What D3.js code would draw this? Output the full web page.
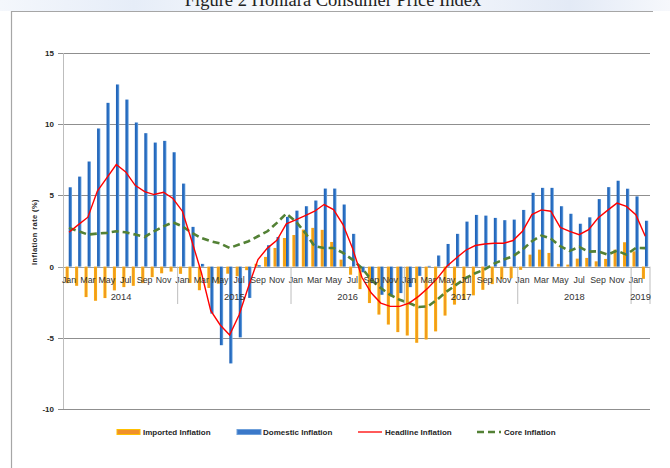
<!DOCTYPE html>
<html>
<head>
<meta charset="utf-8">
<script src="https://cdn.jsdelivr.net/npm/d3@7"></script>
<style>
  body { margin: 0; background: #fff; }
  svg { display: block; }
</style>
</head>
<body>
<script>
// monthly data Jan 2014 - Feb 2019
var monthNames = ["Jan","Feb","Mar","Apr","May","Jun","Jul","Aug","Sep","Oct","Nov","Dec"];
var years = ["2014","2015","2016","2017","2018","2019"];

var imported = [
  -1.16, -1.35, -2.14, -2.4, -2.21, -1.67, -1.44, -1.35, -1.16, -0.74, -0.47, -0.35,
  -0.51, -1.15, -1.66, -1.5, -1.2, -0.5, -0.68, -0.25, 0.2, 0.68, 1.31, 2.01,
  2.22, 2.6, 2.72, 2.58, 1.73, 0.49, -0.57, -1.58, -2.56, -3.37, -4.07, -4.6,
  -4.84, -5.35, -5.12, -4.55, -3.44, -2.67, -2.33, -2.02, -1.63, -1.23, -0.88, -0.81,
  -0.23, 0.84, 1.19, 0.96, 0.19, 0.14, 0.56, 0.61, 0.37, 0.54, 1.19, 1.71,
  1.07, -0.86
];
var domestic = [
  5.57, 6.32, 7.38, 9.7, 11.5, 12.79, 11.73, 10.12, 9.37, 8.71, 8.83, 8.03,
  5.83, 2.79, 0.19, -3.3, -5.52, -6.8, -4.97, -2.2, 0.1, 1.5, 2.08, 3.49,
  3.93, 4.24, 4.64, 5.48, 5.48, 4.36, 2.3, -0.4, -1.16, -1.98, -2.09, -1.86,
  -1.44, -0.65, 0.05, 0.78, 1.59, 2.3, 3.16, 3.63, 3.58, 3.42, 3.26, 3.3,
  3.98, 5.18, 5.53, 5.53, 4.24, 3.71, 3.01, 3.46, 4.74, 5.58, 6.03, 5.47,
  4.93, 3.22
];
var headline = [
  2.41, 2.95, 3.47, 5.3, 6.23, 7.17, 6.65, 5.71, 5.27, 5.06, 5.22, 4.78,
  3.89, 1.8, -0.4, -3.1, -4.1, -4.8, -3.4, -1.4, 0.5, 1.3, 1.85, 3.0,
  3.28, 3.58, 3.89, 4.36, 4.0, 2.95, 1.31, -0.75, -1.86, -2.56, -2.79, -2.79,
  -2.56, -2.09, -1.51, -0.81, 0.02, 0.61, 1.15, 1.48, 1.59, 1.64, 1.64, 1.83,
  2.48, 3.65, 3.98, 3.89, 2.75, 2.48, 2.24, 2.59, 3.41, 3.95, 4.46, 4.23,
  3.64, 2.13
];
var core = [
  2.72, 2.48, 2.25, 2.32, 2.37, 2.48, 2.41, 2.25, 2.08, 2.48, 2.83, 3.11,
  2.83, 2.37, 2.01, 1.78, 1.62, 1.31, 1.55, 1.78, 2.13, 2.48, 3.07, 3.72,
  3.18, 2.37, 1.43, 1.31, 1.31, 0.96, 0.49, -0.1, -0.93, -1.51, -1.98, -2.33,
  -2.56, -2.84, -2.79, -2.3, -1.74, -1.27, -0.8, -0.47, -0.2, 0.21, 0.49, 0.73,
  1.19, 1.78, 2.18, 1.97, 1.43, 1.1, 1.38, 1.05, 1.07, 0.84, 1.12, 0.84,
  1.31, 1.3
];
var yTicks = [15, 10, 5, 0, -5, -10];
var seriesNames = ["Imported Inflation", "Domestic Inflation", "Headline Inflation", "Core Inflation"];

var width = 670;
var height = 468;

var idx = d3.range(imported.length);
var monthLabel = idx.map(function (i) { return monthNames[i % 12]; });

var x = d3.scaleBand().domain(idx).range([64.3, 650]).padding(0);
var y = d3.scaleLinear().domain([-10, 15]).range([409, 53]);
var bw = x.bandwidth();
function cx(i) { return x(i) + bw / 2; }

var svg = d3.select("body")
    .append("svg")
    .attr("width", width)
    .attr("height", height);

var defs = svg.append("defs");
var og = defs.append("linearGradient").attr("id", "gOrange");
og.append("stop").attr("offset", "0%").attr("stop-color", "#ffc000");
og.append("stop").attr("offset", "30%").attr("stop-color", "#f29a1e");
og.append("stop").attr("offset", "70%").attr("stop-color", "#f29a1e");
og.append("stop").attr("offset", "100%").attr("stop-color", "#ffc000");
var bg = defs.append("linearGradient").attr("id", "gBlue");
bg.append("stop").attr("offset", "0%").attr("stop-color", "#1d5fb3");
bg.append("stop").attr("offset", "60%").attr("stop-color", "#2c72c6");
bg.append("stop").attr("offset", "100%").attr("stop-color", "#7fb1e3");
var tg = defs.append("linearGradient").attr("id", "gTop");
tg.append("stop").attr("offset", "0%").attr("stop-color", "#f4f7fc");
tg.append("stop").attr("offset", "20%").attr("stop-color", "#e6edf8");
tg.append("stop").attr("offset", "50%").attr("stop-color", "#ffffff");
tg.append("stop").attr("offset", "85%").attr("stop-color", "#e3eaf6");
tg.append("stop").attr("offset", "100%").attr("stop-color", "#f6f8fc");

// page band + title (cut off at top, as in the source page)
svg.append("rect").attr("x", 0).attr("y", 0).attr("width", width).attr("height", 11)
    .attr("fill", "url(#gTop)");
svg.append("text")
    .attr("x", 333).attr("y", 5.5)
    .attr("text-anchor", "middle")
    .attr("font-family", "Liberation Serif, serif")
    .attr("font-size", "18.5px")
    .attr("fill", "#222")
    .text("Figure 2 Honiara Consumer Price Index");

// frame
svg.append("line").attr("x1", 11).attr("x2", 653).attr("y1", 11.5).attr("y2", 11.5)
    .attr("stroke", "#a6a6a6").attr("stroke-width", 1.2);
svg.append("line").attr("x1", 11.5).attr("x2", 11.5).attr("y1", 11).attr("y2", height)
    .attr("stroke", "#a6a6a6").attr("stroke-width", 1.2);

// gridlines
svg.selectAll("line.grid")
    .data(yTicks)
    .enter()
    .append("line")
    .attr("class", "grid")
    .attr("x1", 58).attr("x2", 650)
    .attr("y1", function (d) { return Math.round(y(d)) + 0.5; })
    .attr("y2", function (d) { return Math.round(y(d)) + 0.5; })
    .attr("stroke", function (d) { return d === 0 ? "#a0a0a0" : "#8f8f8f"; })
    .attr("stroke-width", 1.2);

// y axis line
svg.append("line").attr("x1", 63.5).attr("x2", 63.5).attr("y1", y(15)).attr("y2", y(-10))
    .attr("stroke", "#bdbdbd").attr("stroke-width", 1);

svg.selectAll("text.ytick")
    .data(yTicks)
    .enter()
    .append("text")
    .attr("class", "ytick")
    .attr("x", 54)
    .attr("y", function (d) { return y(d) + 3; })
    .attr("text-anchor", "end")
    .attr("font-family", "Liberation Sans, Arial, sans-serif")
    .attr("font-size", "8px")
    .attr("font-weight", "bold")
    .attr("fill", "#262626")
    .text(function (d) { return d; });

svg.append("text")
    .attr("transform", "translate(37,232) rotate(-90)")
    .attr("text-anchor", "middle")
    .attr("font-family", "Liberation Sans, Arial, sans-serif")
    .attr("font-size", "7.5px")
    .attr("font-weight", "bold")
    .attr("letter-spacing", "0.4px")
    .attr("fill", "#262626")
    .text("Inflation rate (%)");

// bars
svg.selectAll("rect.imp")
    .data(imported)
    .enter()
    .append("rect")
    .attr("class", "imp")
    .attr("x", function (d, i) { return cx(i) - 3.4; })
    .attr("y", function (d) { return y(Math.max(0, d)); })
    .attr("width", 3.1)
    .attr("height", function (d) { return Math.abs(y(d) - y(0)); })
    .attr("fill", "url(#gOrange)");

svg.selectAll("rect.dom")
    .data(domestic)
    .enter()
    .append("rect")
    .attr("class", "dom")
    .attr("x", function (d, i) { return cx(i) - 0.3; })
    .attr("y", function (d) { return y(Math.max(0, d)); })
    .attr("width", 3.3)
    .attr("height", function (d) { return Math.abs(y(d) - y(0)); })
    .attr("fill", "url(#gBlue)");

// lines
var line = d3.line()
    .x(function (d, i) { return cx(i); })
    .y(function (d) { return y(d); });

svg.append("path")
    .datum(core)
    .attr("d", line)
    .attr("fill", "none")
    .attr("stroke", "#538135")
    .attr("stroke-width", 2.6)
    .attr("stroke-dasharray", "7,4");

svg.append("path")
    .datum(headline)
    .attr("d", line)
    .attr("fill", "none")
    .attr("stroke", "#ff0000")
    .attr("stroke-width", 1.4);

// x axis: month labels, year labels, separators
svg.selectAll("text.month")
    .data(idx.filter(function (i) { return i % 2 === 0; }))
    .enter()
    .append("text")
    .attr("class", "month")
    .attr("x", function (i) { return cx(i); })
    .attr("y", 283)
    .attr("text-anchor", "middle")
    .attr("font-family", "Liberation Sans, Arial, sans-serif")
    .attr("font-size", "8.8px")
    .attr("fill", "#333")
    .text(function (i) { return monthLabel[i]; });

var yearStarts = years.map(function (yr, k) { return k * 12; });
svg.selectAll("line.sep")
    .data(yearStarts.slice(1).concat([imported.length]))
    .enter()
    .append("line")
    .attr("class", "sep")
    .attr("x1", function (s) { return s < imported.length ? x(s) : 650; })
    .attr("x2", function (s) { return s < imported.length ? x(s) : 650; })
    .attr("y1", y(0)).attr("y2", 304)
    .attr("stroke", "#bdbdbd").attr("stroke-width", 1);

svg.selectAll("text.year")
    .data(years)
    .enter()
    .append("text")
    .attr("class", "year")
    .attr("x", function (yr, k) {
        var a = k * 12;
        var b = Math.min(a + 12, imported.length);
        return (x(a) + x(b - 1) + bw) / 2;
    })
    .attr("y", 300)
    .attr("text-anchor", "middle")
    .attr("font-family", "Liberation Sans, Arial, sans-serif")
    .attr("font-size", "9.3px")
    .attr("fill", "#333")
    .text(function (d) { return d; });

// legend
var legX = [117, 237, 358, 477];
var leg = svg.selectAll("g.leg")
    .data(seriesNames)
    .enter()
    .append("g")
    .attr("class", "leg")
    .attr("transform", function (d, i) { return "translate(" + legX[i] + ",432)"; });

leg.each(function (d, i) {
    var g = d3.select(this);
    if (i === 0) {
        g.append("rect").attr("x", 0).attr("y", -2.5).attr("width", 23).attr("height", 5)
            .attr("fill", "#f0902a").attr("stroke", "#ffc000").attr("stroke-width", 1);
    } else if (i === 1) {
        g.append("rect").attr("x", 0).attr("y", -2.5).attr("width", 24).attr("height", 5)
            .attr("fill", "#3a78c9").attr("stroke", "#6fa0da").attr("stroke-width", 1);
    } else if (i === 2) {
        g.append("line").attr("x1", 0).attr("x2", 24).attr("y1", 0).attr("y2", 0)
            .attr("stroke", "#ff0000").attr("stroke-width", 1.3);
    } else {
        g.append("line").attr("x1", 0).attr("x2", 24).attr("y1", 0).attr("y2", 0)
            .attr("stroke", "#538135").attr("stroke-width", 2.6)
            .attr("stroke-dasharray", "7,4");
    }
    g.append("text")
        .attr("x", i < 2 ? 26 : 27)
        .attr("y", 2.9)
        .attr("font-family", "Liberation Sans, Arial, sans-serif")
        .attr("font-size", "8px")
        .attr("font-weight", "bold")
        .attr("fill", "#262626")
        .text(d);
});
</script>
</body>
</html>
